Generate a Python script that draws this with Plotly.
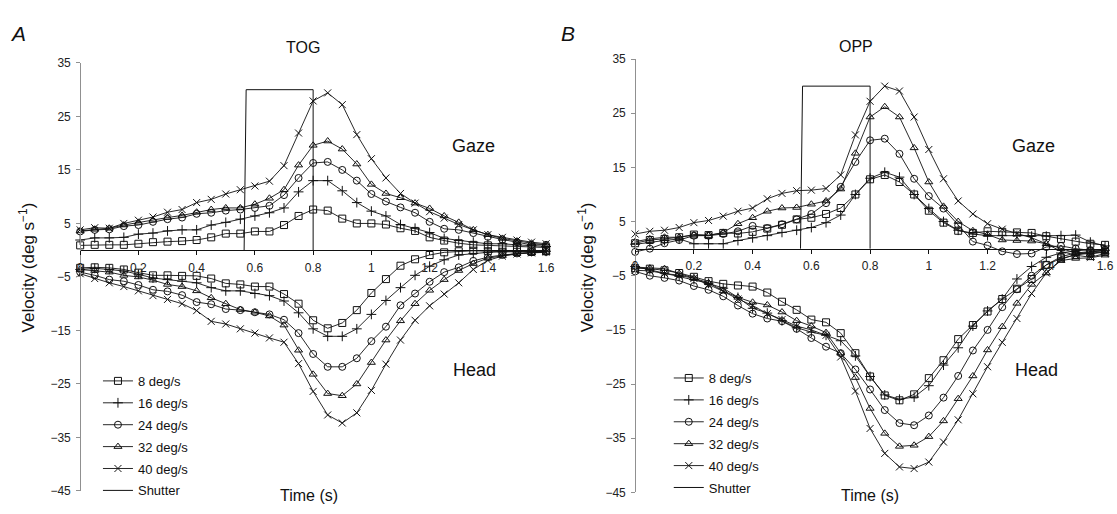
import plotly.graph_objects as go

W, H = 1117, 514

time_s = [round(0.05 * i, 2) for i in range(33)]
speeds = ["8 deg/s", "16 deg/s", "24 deg/s", "32 deg/s", "40 deg/s"]
symbols = ["square-open", "cross-thin-open", "circle-open", "triangle-up-open", "x-thin-open"]

# ---- Panel A: TOG ----
tog_gaze_8 = [0.9, 1.0, 1.0, 1.0, 1.2, 1.5, 1.6, 1.7, 1.9, 2.4, 3.1, 3.1, 3.5, 3.5, 4.7, 6.4, 7.6, 7.4, 5.9, 5.0, 5.0, 4.8, 4.1, 3.6, 2.4, 1.8, 1.3, 1.0, 0.9, 0.7, 0.6, 0.5, 0.5]
tog_gaze_16 = [1.9, 2.3, 2.3, 2.4, 3.0, 3.2, 3.6, 3.8, 3.8, 4.7, 5.2, 5.8, 6.4, 7.0, 7.9, 10.9, 13.0, 13.0, 11.1, 8.9, 7.3, 6.4, 4.8, 4.1, 3.3, 2.2, 1.8, 1.5, 1.2, 1.2, 1.0, 0.8, 0.7]
tog_gaze_24 = [3.5, 3.8, 3.9, 4.5, 4.7, 5.3, 5.8, 6.1, 6.8, 7.0, 7.4, 7.6, 7.9, 8.3, 10.3, 13.5, 16.3, 16.5, 15.0, 13.0, 10.5, 9.1, 8.0, 7.0, 5.3, 4.0, 3.8, 3.2, 2.5, 2.0, 1.5, 1.0, 1.0]
tog_gaze_32 = [3.6, 3.9, 4.1, 4.7, 5.2, 5.6, 6.1, 6.5, 7.1, 7.6, 7.9, 7.9, 8.6, 9.7, 11.3, 15.9, 19.6, 20.4, 18.9, 16.1, 12.3, 10.6, 9.8, 8.8, 7.8, 6.4, 5.2, 3.8, 2.9, 2.2, 1.7, 1.3, 1.0]
tog_gaze_40 = [3.8, 4.2, 4.1, 5.0, 5.6, 6.2, 7.1, 7.6, 8.9, 9.5, 10.5, 11.3, 12.0, 12.9, 15.8, 21.9, 27.9, 29.4, 27.2, 21.6, 17.1, 13.5, 10.6, 8.8, 7.2, 6.0, 4.8, 3.8, 2.9, 2.4, 1.9, 1.5, 1.2]

tog_head_8 = [-3.3, -3.2, -3.3, -3.6, -4.2, -4.7, -4.7, -4.8, -4.8, -5.3, -6.2, -6.4, -6.8, -6.8, -8.2, -10.0, -13.1, -14.6, -13.6, -11.2, -8.0, -5.4, -2.9, -1.7, -0.9, -0.4, -0.2, -0.1, -0.2, -0.3, -0.3, -0.3, -0.2]
tog_head_16 = [-3.6, -3.4, -3.6, -3.9, -4.5, -5.2, -5.5, -5.8, -6.1, -7.0, -7.6, -7.6, -8.1, -8.5, -9.5, -11.7, -14.7, -16.1, -16.1, -14.7, -12.0, -9.4, -7.0, -4.7, -3.0, -1.8, -0.9, -0.6, -0.4, -0.3, -0.3, -0.2, -0.2]
tog_head_24 = [-4.1, -4.7, -5.5, -5.8, -6.5, -7.4, -7.7, -8.4, -9.7, -10.1, -11.0, -11.2, -11.6, -12.0, -13.0, -15.5, -19.4, -21.8, -21.8, -20.2, -17.0, -14.3, -10.3, -8.1, -5.9, -4.1, -3.2, -2.0, -1.3, -0.9, -0.6, -0.4, -0.3]
tog_head_32 = [-3.6, -3.8, -4.1, -4.7, -5.0, -5.6, -6.4, -6.8, -7.6, -8.9, -10.0, -11.1, -11.6, -12.3, -14.0, -18.7, -23.2, -26.8, -27.2, -25.0, -21.0, -16.8, -13.2, -10.0, -7.5, -5.5, -3.8, -2.5, -1.5, -1.0, -0.6, -0.5, -0.4]
tog_head_40 = [-4.4, -5.3, -6.1, -6.8, -7.6, -8.5, -9.2, -10.0, -11.3, -13.3, -13.8, -14.7, -15.5, -16.4, -17.2, -21.2, -26.4, -30.8, -32.3, -30.4, -26.2, -21.3, -16.8, -13.1, -10.4, -8.2, -6.1, -3.6, -1.9, -1.1, -0.7, -0.5, -0.3]

# ---- Panel B: OPP ----
opp_gaze_8 = [1.0, 1.6, 1.8, 2.1, 2.6, 2.5, 2.9, 2.8, 3.1, 3.7, 4.4, 5.4, 5.7, 6.4, 7.5, 10.0, 12.8, 13.6, 12.3, 10.0, 7.0, 4.8, 3.3, 2.9, 3.2, 3.1, 3.0, 2.9, 2.3, 1.8, 1.3, 0.9, 0.7]
opp_gaze_16 = [0.8, 1.2, 1.5, 1.8, 0.9, 0.9, 0.9, 1.5, 2.0, 2.4, 3.0, 3.4, 3.9, 4.8, 6.2, 10.0, 13.0, 14.1, 13.2, 10.0, 7.4, 5.0, 3.4, 2.7, 2.4, 2.4, 2.4, 2.3, 2.3, 2.4, 2.5, 1.2, 0.5]
opp_gaze_24 = [-0.6, 0.0, 1.0, 1.6, 2.4, 2.4, 2.7, 3.2, 4.2, 3.8, 4.5, 5.4, 6.4, 8.4, 11.4, 16.0, 20.0, 20.3, 17.5, 12.9, 9.7, 7.4, 4.3, 1.3, 0.6, -0.5, -1.0, -0.9, 0.3, 0.5, 0.0, -0.3, -0.2]
opp_gaze_32 = [1.3, 1.8, 2.1, 2.1, 2.5, 2.4, 3.0, 4.6, 5.7, 6.9, 7.5, 7.6, 8.2, 8.8, 11.0, 17.6, 24.3, 26.2, 24.3, 18.6, 12.3, 7.8, 5.0, 3.3, 2.6, 1.6, 1.5, 1.4, 0.9, 0.0, -0.8, -1.0, -0.6]
opp_gaze_40 = [2.7, 3.2, 3.4, 3.9, 4.8, 5.2, 6.0, 6.9, 7.5, 9.2, 10.2, 10.7, 10.8, 11.1, 13.6, 21.0, 27.2, 30.0, 29.1, 24.3, 18.3, 12.9, 8.8, 6.4, 4.6, 3.6, 2.8, 2.0, 0.9, -0.5, -1.2, -1.6, -0.9]

opp_head_8 = [-3.6, -3.7, -4.0, -4.5, -5.2, -6.0, -6.5, -6.8, -7.0, -8.1, -9.8, -11.3, -13.1, -13.6, -15.6, -19.3, -23.6, -27.1, -28.0, -26.9, -23.9, -20.6, -16.7, -14.1, -11.6, -9.3, -7.4, -5.6, -3.0, -1.8, -1.2, -0.8, -0.6]
opp_head_16 = [-3.3, -3.9, -4.5, -5.1, -5.7, -6.4, -7.3, -9.0, -11.0, -11.9, -13.3, -14.6, -15.4, -16.0, -17.0, -19.8, -23.6, -27.0, -27.8, -27.4, -25.3, -21.5, -18.3, -14.3, -11.5, -9.3, -5.6, -3.3, -1.6, -0.8, -0.4, -0.2, -0.3]
opp_head_24 = [-4.2, -5.0, -5.4, -5.9, -6.9, -7.6, -8.8, -10.5, -12.0, -12.9, -13.4, -14.8, -16.5, -18.1, -19.3, -22.3, -26.0, -29.8, -32.2, -32.6, -30.8, -27.5, -23.5, -18.8, -15.0, -10.8, -7.5, -5.0, -3.0, -1.5, -0.8, -0.5, -0.3]
opp_head_32 = [-3.4, -3.6, -3.7, -4.6, -5.4, -6.3, -7.8, -9.0, -9.9, -10.4, -11.7, -13.3, -14.3, -15.5, -19.3, -23.8, -29.5, -34.1, -36.5, -36.3, -34.7, -31.8, -27.7, -23.5, -18.7, -14.4, -10.1, -6.6, -4.5, -2.2, -1.8, -1.7, -1.2]
opp_head_40 = [-4.0, -4.1, -4.6, -4.9, -5.5, -6.6, -7.9, -9.3, -10.5, -12.0, -13.1, -14.3, -15.0, -16.0, -20.0, -26.3, -33.2, -37.8, -40.3, -40.6, -39.4, -35.7, -31.6, -26.8, -21.8, -17.3, -12.9, -8.3, -4.5, -2.0, -1.0, -0.6, -0.4]

shutter_t = [0.563, 0.57, 0.80, 0.80]
shutter_v = [0, 30, 30, 0]

x_ticks = [0, 0.2, 0.4, 0.6, 0.8, 1.0, 1.2, 1.4, 1.6]
y_ticks = [-45, -35, -25, -15, -5, 5, 15, 25, 35]

FONT = "Liberation Sans, Arial, Helvetica, sans-serif"
INK = "#111111"


def px(x):
    return x / W


def py(y):
    return 1 - y / H


panels = [
    dict(xa="x", ya="y", leg="legend",
         gaze=[tog_gaze_8, tog_gaze_16, tog_gaze_24, tog_gaze_32, tog_gaze_40],
         head=[tog_head_8, tog_head_16, tog_head_24, tog_head_32, tog_head_40]),
    dict(xa="x2", ya="y2", leg="legend2",
         gaze=[opp_gaze_8, opp_gaze_16, opp_gaze_24, opp_gaze_32, opp_gaze_40],
         head=[opp_head_8, opp_head_16, opp_head_24, opp_head_32, opp_head_40]),
]

fig = go.Figure()
for p_i, p in enumerate(panels):
    for k, name in enumerate(speeds):
        for j, series in enumerate([p["gaze"][k], p["head"][k]]):
            fig.add_trace(go.Scatter(
                x=time_s, y=series, mode="lines+markers", name=name,
                xaxis=p["xa"], yaxis=p["ya"], legend=p["leg"],
                legendgroup=f"p{p_i}_{k}", showlegend=(j == 0),
                line=dict(color=INK, width=0.9),
                marker=dict(symbol=symbols[k], size=7, color=INK,
                            line=dict(color=INK, width=1)),
                cliponaxis=False,
            ))
    fig.add_trace(go.Scatter(
        x=shutter_t, y=shutter_v, mode="lines", name="Shutter",
        xaxis=p["xa"], yaxis=p["ya"], legend=p["leg"],
        legendgroup=f"p{p_i}_sh", line=dict(color=INK, width=1),
    ))

# domains (pixel-derived)
xd1 = [px(78), px(549)]
xd2 = [px(639), px(1114)]
yd1 = [py(497.5), py(57.5)]
yd2 = [py(499), py(53.5)]


def zero_pos(yd):
    return yd[0] + 45 / 80 * (yd[1] - yd[0])


xcommon = dict(range=[0, 1.6], tickvals=x_ticks, showline=True, linecolor=INK, linewidth=1,
               ticks="outside", ticklen=4, tickcolor=INK, showgrid=False, zeroline=False,
               tickfont=dict(family=FONT, size=12, color="#222"), ticklabelstandoff=2)
ycommon = dict(range=[-45, 35], tickvals=y_ticks, showline=True, linecolor="#909090", linewidth=1,
               ticks="outside", ticklen=4, tickcolor="#909090", showgrid=False, zeroline=False,
               tickfont=dict(family=FONT, size=12, color="#222"), ticklabelstandoff=3)

fig.update_layout(
    width=W, height=H, margin=dict(l=0, r=0, t=0, b=0),
    paper_bgcolor="white", plot_bgcolor="white",
    font=dict(family=FONT, color=INK),
    xaxis=dict(domain=xd1, anchor="free", position=zero_pos(yd1), **xcommon),
    yaxis=dict(domain=yd1, anchor="free", position=xd1[0], **ycommon),
    xaxis2=dict(domain=xd2, anchor="free", position=zero_pos(yd2), **xcommon),
    yaxis2=dict(domain=yd2, anchor="free", position=xd2[0], **ycommon),
    legend=dict(x=px(96), y=py(369), xanchor="left", yanchor="top",
                font=dict(family=FONT, size=13, color=INK), bgcolor="rgba(0,0,0,0)",
                tracegroupgap=2, itemwidth=30),
    legend2=dict(x=px(673), y=py(366), xanchor="left", yanchor="top",
                 font=dict(family=FONT, size=13, color=INK), bgcolor="rgba(0,0,0,0)",
                 tracegroupgap=2, itemwidth=30),
    showlegend=True,
)

ann = []


def add_text(x, y, text, size, italic=False, angle=0):
    ann.append(dict(x=px(x), y=py(y), xref="paper", yref="paper", text=text, showarrow=False,
                    xanchor="center", yanchor="middle", textangle=angle,
                    font=dict(family=FONT, size=size, color=INK,
                              style="italic" if italic else "normal")))


add_text(15, 27, "A", 21, italic=True)
add_text(571, 27, "B", 21, italic=True)
add_text(303, 42, "TOG", 16)
add_text(862, 41, "OPP", 16)
add_text(476, 143, "Gaze", 18)
add_text(477, 373, "Head", 18)
add_text(1042, 143, "Gaze", 18)
add_text(1045, 373, "Head", 18)
add_text(309, 502, "Time (s)", 16)
add_text(876, 502, "Time (s)", 16)
add_text(24, 268, "Velocity (deg s<sup>−1</sup>)", 17, angle=-90)
add_text(589, 268, "Velocity (deg s<sup>−1</sup>)", 17, angle=-90)
fig.update_layout(annotations=ann)

fig.write_html("out.html", config={"displayModeBar": False},
               post_script="document.body.style.margin='0px';document.body.style.overflow='hidden';")
